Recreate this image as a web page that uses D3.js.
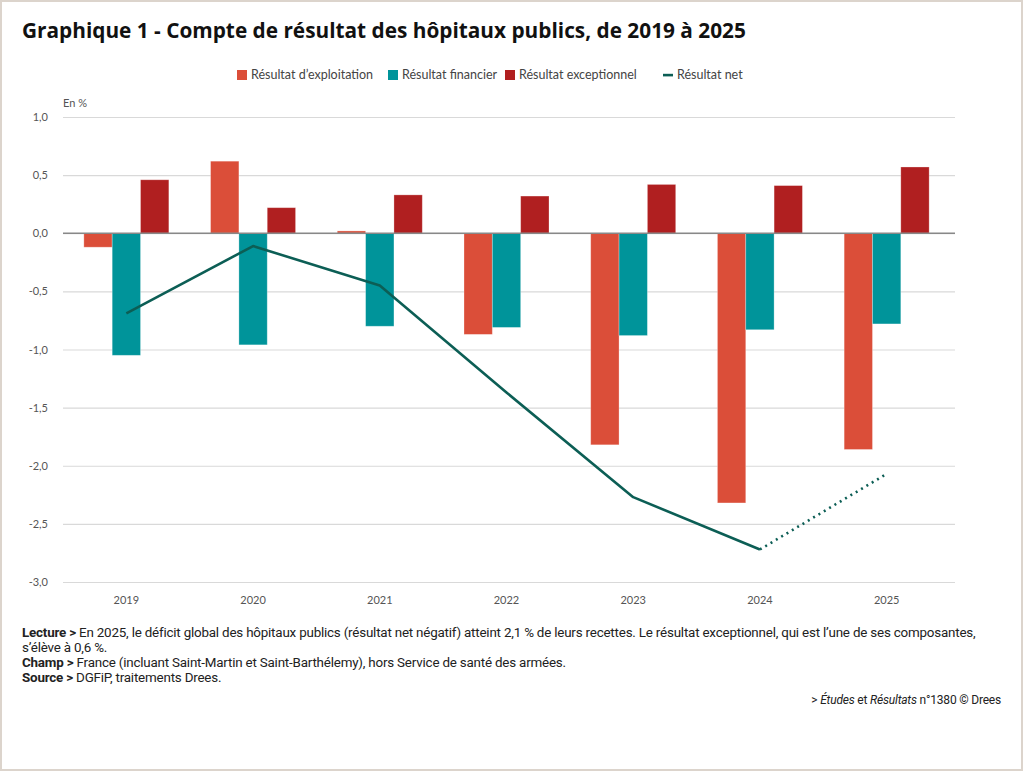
<!DOCTYPE html>
<html>
<head>
<meta charset="utf-8">
<script src="https://cdn.jsdelivr.net/npm/d3@7"></script>
<style>
	html, body { margin: 0; padding: 0; background: #fff; }
	svg { display: block; font-family: Lato, "Open Sans", sans-serif; }
</style>
</head>
<body>
<svg id="chart" width="1024" height="772"></svg>
<script>
// data (% of revenues)
const years = ["2019", "2020", "2021", "2022", "2023", "2024", "2025"];
const seriesNames = ["Résultat d’exploitation", "Résultat financier", "Résultat exceptionnel"];
const exploitation = [-0.12, 0.62, 0.02, -0.87, -1.82, -2.32, -1.86];
const financier = [-1.05, -0.96, -0.80, -0.81, -0.88, -0.83, -0.78];
const exceptionnel = [0.46, 0.22, 0.33, 0.32, 0.42, 0.41, 0.57];
const net = [-0.69, -0.11, -0.45, -1.37, -2.27, -2.72, -2.07];
const yTicks = [1.0, 0.5, 0.0, -0.5, -1.0, -1.5, -2.0, -2.5, -3.0];

const colors = ["#db4e39", "#00949a", "#b01f20"];
const netColor = "#0c5e55";

const svg = d3.select("#chart");
const margin = { top: 117, bottom: 190, left: 63, right: 74 };
const width = 1024 - margin.left - margin.right;
const height = 772 - margin.top - margin.bottom;

// frame
svg.append("rect").attr("x", 1).attr("y", 1).attr("width", 1021).attr("height", 769)
	.attr("fill", "none").attr("stroke", "#dcd4cc").attr("stroke-width", 2);

// title
svg.append("text").attr("x", 22).attr("y", 38)
	.attr("font-size", 20.8).attr("font-weight", 700).attr("fill", "#111")
	.attr("font-family", "'Open Sans', sans-serif")
	.text("Graphique 1 - Compte de résultat des hôpitaux publics, de 2019 à 2025");

const x0 = d3.scaleBand().domain(years).range([0, width]);
const groupW = 85;
const x1 = d3.scaleBand().domain(seriesNames).range([0, groupW]);
const y = d3.scaleLinear().domain([-3, 1]).range([height, 0]);

const g = svg.append("g").attr("transform", "translate(" + margin.left + "," + margin.top + ")");

// grid + y labels
const yAxis = d3.axisLeft(y).tickValues(yTicks)
	.tickSize(-width - 5)
	.tickFormat(d => d3.format(".1f")(d).replace(".", ",").replace("−", "-"));
const ya = g.append("g").call(yAxis);
ya.select(".domain").remove();
ya.selectAll(".tick line").attr("stroke", "#d9d9d9").attr("stroke-width", 1.2).attr("x1", 0).attr("x2", width + 5);
ya.selectAll(".tick text").attr("x", -15).attr("font-size", 11).attr("fill", "#555")
	.attr("font-family", "Lato, sans-serif");

g.append("text").attr("x", 0).attr("y", -10).attr("font-size", 11).attr("fill", "#555").text("En %");

// bars
const seriesValues = [exploitation, financier, exceptionnel];
const groups = g.selectAll("g.year").data(years).enter().append("g")
	.attr("class", "year")
	.attr("transform", d => "translate(" + (x0(d) + (x0.bandwidth() - groupW) / 2) + ",0)");

groups.selectAll("rect").data((d, i) => seriesNames.map((s, j) => ({ s: s, j: j, v: seriesValues[j][i] })))
	.enter().append("rect")
	.attr("x", d => x1(d.s))
	.attr("y", d => y(Math.max(0, d.v)))
	.attr("width", x1.bandwidth())
	.attr("height", d => Math.abs(y(d.v) - y(0)))
	.attr("fill", d => colors[d.j])
	.attr("stroke", "#fff").attr("stroke-opacity", 0.35).attr("stroke-width", 0.8);

// zero line
g.append("line").attr("x1", 0).attr("x2", width + 5).attr("y1", y(0)).attr("y2", y(0))
	.attr("stroke", "#888").attr("stroke-width", 1.5);

// net line : solid up to 2024, dotted for 2025 forecast
const pts = years.map((yr, i) => [x0(yr) + x0.bandwidth() / 2, y(net[i])]);
const line = d3.line();
g.append("path").attr("d", line(pts.slice(0, 6))).attr("fill", "none")
	.attr("stroke", netColor).attr("stroke-width", 2.6).attr("stroke-linejoin", "round");
g.append("path").attr("d", line(pts.slice(5))).attr("fill", "none")
	.attr("stroke", netColor).attr("stroke-width", 2.6).attr("stroke-dasharray", "2,4.2");

// x labels
const xa = g.append("g").attr("transform", "translate(0," + height + ")")
	.call(d3.axisBottom(x0).tickSize(0).tickPadding(14));
xa.select(".domain").remove();
xa.selectAll("text").attr("font-size", 11).attr("fill", "#555").attr("font-family", "Lato, sans-serif");

// legend
const legend = [
	{ label: seriesNames[0], color: colors[0], x: 237, type: "rect" },
	{ label: seriesNames[1], color: colors[1], x: 388, type: "rect" },
	{ label: seriesNames[2], color: colors[2], x: 505, type: "rect" },
	{ label: "Résultat net", color: netColor, x: 663, type: "line" }
];
const lg = svg.append("g").selectAll("g").data(legend).enter().append("g")
	.attr("transform", d => "translate(" + d.x + ",75)");
lg.filter(d => d.type == "rect").append("rect")
	.attr("x", 0).attr("y", -5).attr("width", 10).attr("height", 10).attr("fill", d => d.color);
lg.filter(d => d.type == "line").append("rect")
	.attr("x", 0).attr("y", -1.2).attr("width", 10).attr("height", 2.6).attr("fill", d => d.color);
lg.append("text").attr("x", 14).attr("y", 4).attr("font-size", 12.5).attr("fill", "#444")
	.text(d => d.label);

// notes
const notes = [
	{ b: "Lecture >", t: " En 2025, le déficit global des hôpitaux publics (résultat net négatif) atteint 2,1 % de leurs recettes. Le résultat exceptionnel, qui est l’une de ses composantes,", y: 637 },
	{ b: "", t: "s’élève à 0,6 %.", y: 652 },
	{ b: "Champ >", t: " France (incluant Saint-Martin et Saint-Barthélemy), hors Service de santé des armées.", y: 667 },
	{ b: "Source >", t: " DGFiP, traitements Drees.", y: 682 }
];
const nt = svg.append("g").selectAll("text").data(notes).enter().append("text")
	.attr("x", 22).attr("y", d => d.y)
	.attr("font-size", 13.4).attr("fill", "#222").attr("font-family", "'Liberation Sans Narrow', 'Roboto', sans-serif")
	.attr("letter-spacing", -0.2);
nt.append("tspan").attr("font-weight", 700).text(d => d.b);
nt.append("tspan").text(d => d.t);

const cr = svg.append("text").attr("x", 1001).attr("y", 704).attr("text-anchor", "end")
	.attr("font-size", 12).attr("fill", "#222").attr("font-family", "'Liberation Sans Narrow', 'Roboto', sans-serif")
	.attr("letter-spacing", -0.2);
cr.append("tspan").text("> ");
cr.append("tspan").attr("font-style", "italic").text("Études");
cr.append("tspan").text(" et ");
cr.append("tspan").attr("font-style", "italic").text("Résultats");
cr.append("tspan").text(" n°1380 © Drees");
</script>
</body>
</html>
